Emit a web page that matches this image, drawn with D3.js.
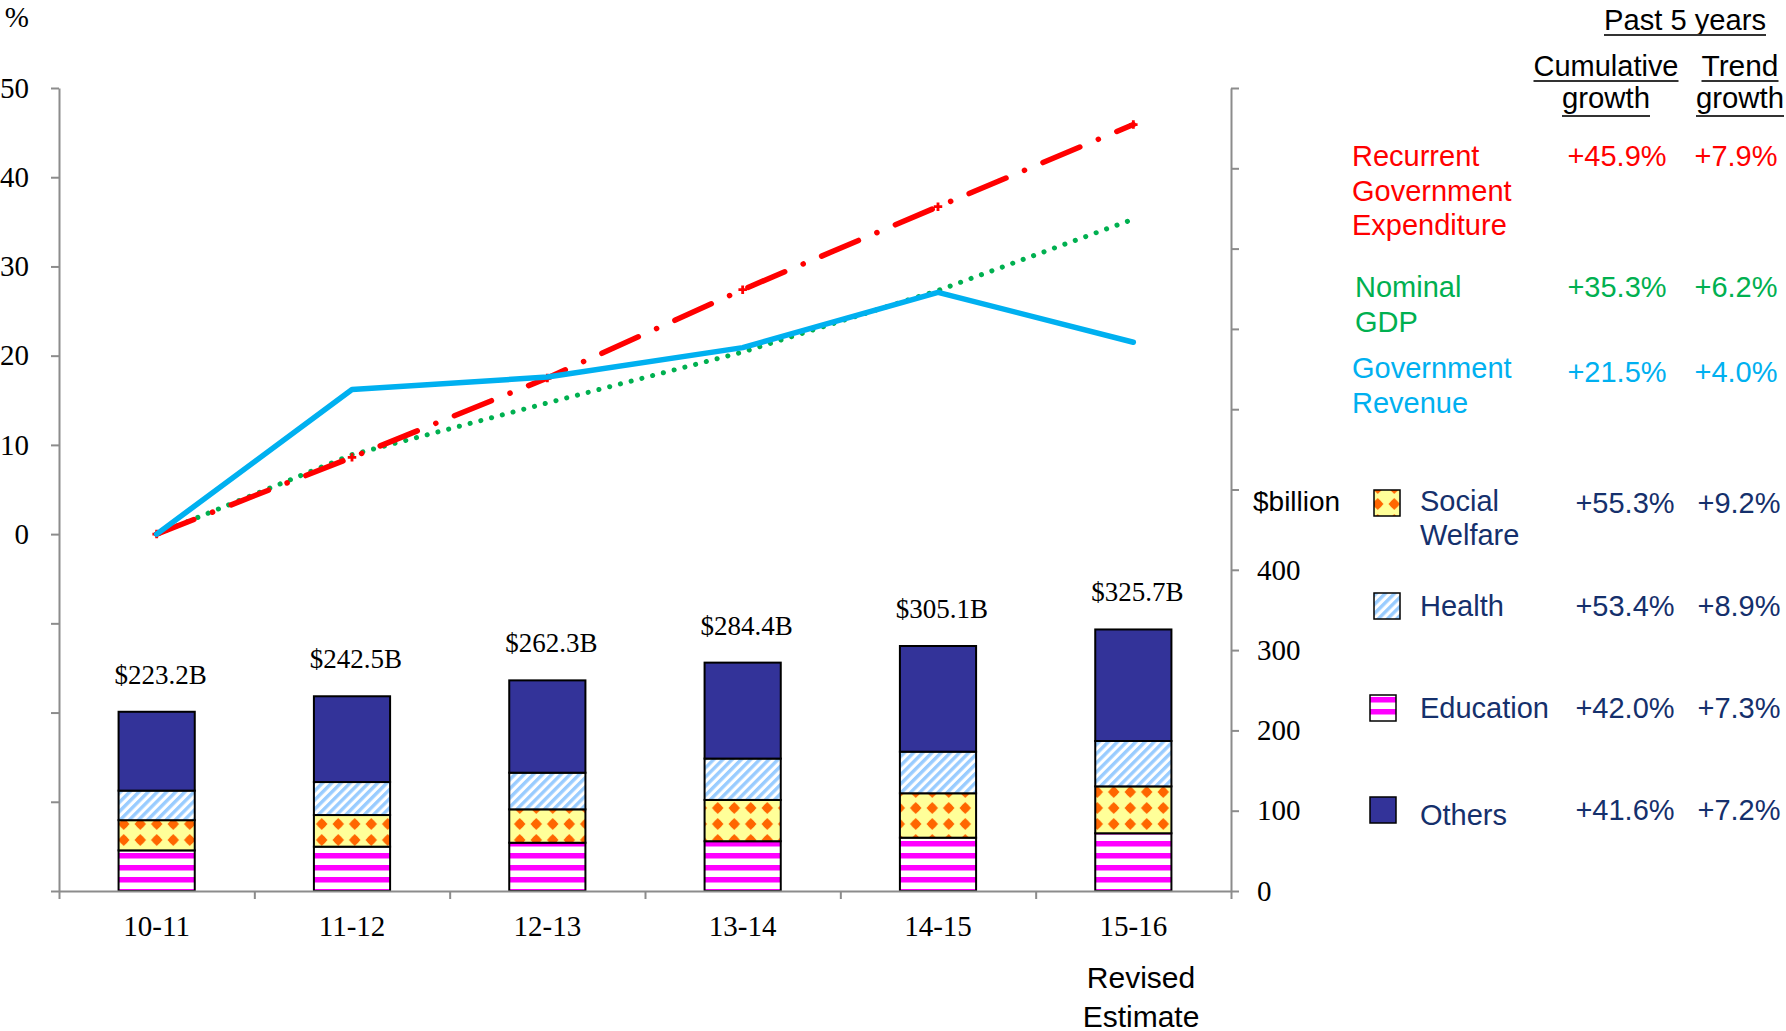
<!DOCTYPE html>
<html>
<head>
<meta charset="utf-8">
<script src="https://cdnjs.cloudflare.com/ajax/libs/d3/7.8.5/d3.min.js"></script>
<style>
body { margin: 0; background: #fff; }
svg text { font-family: 'Liberation Serif', 'Times New Roman', serif; }
svg text.sans { font-family: 'Liberation Sans', Arial, sans-serif; }
svg text.narrow { font-family: 'Liberation Sans Narrow', 'Arial Narrow', 'Liberation Sans', sans-serif; }
</style>
</head>
<body>
<svg id="chart" width="1786" height="1031"></svg>
<script>
// years on the x axis
const years = ['10-11', '11-12', '12-13', '13-14', '14-15', '15-16']
const totals = [223.2, 242.5, 262.3, 284.4, 305.1, 325.7]

// stacked parts in $billion, bottom to top
const education = [50.6, 55.2, 60.1, 62.0, 66.4, 71.9]
const socialWelfare = [37.6, 39.4, 41.6, 51.4, 55.3, 58.4]
const health = [36.8, 41.1, 45.6, 51.5, 51.8, 56.5]
const others = [98.2, 106.8, 115.0, 119.5, 131.6, 138.9]

// cumulative growth since 10-11 (%)
const recurrentGrowth = [0, 8.6, 17.5, 27.4, 36.7, 45.9]
const gdpGrowth = [0, 8.9, 14.7, 20.4, 27.3, 35.3]
const revenueGrowth = [0, 16.2, 17.6, 20.9, 27.1, 21.5]

// legend table
const lineNames = [['Recurrent', 'Government', 'Expenditure'], ['Nominal', 'GDP'], ['Government', 'Revenue']]
const lineCumulative = ['+45.9%', '+35.3%', '+21.5%']
const lineTrend = ['+7.9%', '+6.2%', '+4.0%']
const barNames = [['Social', 'Welfare'], ['Health'], ['Education'], ['Others']]
const barCumulative = ['+55.3%', '+53.4%', '+42.0%', '+41.6%']
const barTrend = ['+9.2%', '+8.9%', '+7.3%', '+7.2%']

const svg = d3.select('#chart')

// plot box
const plotLeft = 59, plotRight = 1231, plotTop = 88, plotBottom = 891

// Scales
const x = d3.scaleBand().domain(years).range([plotLeft, plotRight]).paddingInner(0.61).paddingOuter(0.305)
const xEdge = d3.scaleLinear().domain([0, years.length]).range([plotLeft, plotRight])
const yPct = d3.scaleLinear().domain([-40, 50]).range([plotBottom, plotTop])
const yBn = d3.scaleLinear().domain([0, 1000]).range([plotBottom, plotTop])

// Patterns
const defs = svg.append('defs')

let p = defs.append('pattern').attr('id', 'pat-edu')
    .attr('patternUnits', 'userSpaceOnUse').attr('width', 12).attr('height', 12)
p.append('rect').attr('width', 12).attr('height', 12).attr('fill', '#fff')
p.append('rect').attr('y', 1).attr('width', 12).attr('height', 5.5).attr('fill', '#ff00ff')

p = defs.append('pattern').attr('id', 'pat-health')
    .attr('patternUnits', 'userSpaceOnUse').attr('width', 6.5).attr('height', 6.5)
    .attr('patternTransform', 'rotate(45)')
p.append('rect').attr('width', 6.5).attr('height', 6.5).attr('fill', '#fff')
p.append('rect').attr('width', 3.4).attr('height', 6.5).attr('fill', '#99ccff')

p = defs.append('pattern').attr('id', 'pat-sw')
    .attr('patternUnits', 'userSpaceOnUse').attr('width', 16.5).attr('height', 16)
p.append('rect').attr('width', 16.5).attr('height', 16).attr('fill', '#ffff99')
p.append('path').attr('d', 'M8.25,2 L14,8 L8.25,14 L2.5,8 Z').attr('fill', '#ff6600')
p.append('circle').attr('cx', 8.25).attr('cy', 8).attr('r', 4.3).attr('fill', '#ff6600')

const fills = { education: 'url(#pat-edu)', socialWelfare: 'url(#pat-sw)', health: 'url(#pat-health)', others: '#333399' }
const keys = ['education', 'socialWelfare', 'health', 'others']

// Bars
const rows = years.map((yr, i) => ({ year: yr, education: education[i], socialWelfare: socialWelfare[i], health: health[i], others: others[i] }))
const stacked = d3.stack().keys(keys)(rows)

svg.append('g').selectAll('g')
    .data(stacked)
    .join('g')
    .attr('fill', d => fills[d.key])
    .selectAll('rect')
    .data(d => d)
    .join('rect')
    .attr('x', d => x(d.data.year))
    .attr('width', x.bandwidth())
    .attr('y', d => yBn(d[1]))
    .attr('height', d => yBn(d[0]) - yBn(d[1]))
    .attr('stroke', '#000')
    .attr('stroke-width', 2)

// Bar total labels
svg.append('g').selectAll('text')
    .data(totals)
    .join('text')
    .attr('x', (d, i) => x(years[i]) + x.bandwidth() / 2 + 4)
    .attr('y', d => yBn(d) - 28)
    .attr('text-anchor', 'middle')
    .style('font-size', '27px')
    .text(d => '$' + d.toFixed(1) + 'B')

// Axes
const axisColor = '#8c8c8c'

let gL = svg.append('g').attr('transform', `translate(${plotLeft},0)`)
    .call(d3.axisLeft(yPct).tickValues(d3.range(-40, 51, 10)).tickSize(8).tickSizeOuter(0).tickPadding(22)
        .tickFormat(d => d >= 0 ? d : ''))
let gR = svg.append('g').attr('transform', `translate(${plotRight},0)`)
    .call(d3.axisRight(yBn).tickValues(d3.range(0, 1001, 100)).tickSize(8).tickSizeOuter(0).tickPadding(18)
        .tickFormat(d => d <= 400 ? d : ''))
let gX = svg.append('g').attr('transform', `translate(0,${plotBottom})`)
    .call(d3.axisBottom(xEdge).tickValues(d3.range(0, years.length + 1)).tickSize(8).tickSizeOuter(0).tickFormat(''))
let gXL = svg.append('g').attr('transform', `translate(0,${plotBottom})`)
    .call(d3.axisBottom(x).tickSize(0).tickPadding(24))
gXL.select('.domain').remove()

for (const g of [gL, gR, gX]) {
    g.select('.domain').attr('stroke', axisColor).attr('stroke-width', 2)
    g.selectAll('.tick line').attr('stroke', axisColor).attr('stroke-width', 2)
}
for (const g of [gL, gR, gXL]) {
    g.selectAll('text').style('font-family', "'Liberation Serif', 'Times New Roman', serif")
        .style('font-size', '29px').attr('fill', '#000')
}

// Axis titles
svg.append('text').attr('x', 29).attr('y', 17).attr('dy', '0.35em')
    .attr('text-anchor', 'end').style('font-size', '29px').text('%')
svg.append('text').attr('class', 'sans').attr('x', 1253).attr('y', 501).attr('dy', '0.35em')
    .style('font-size', '28px').text('$billion')
svg.append('g').selectAll('text')
    .data(['Revised', 'Estimate'])
    .join('text')
    .attr('class', 'sans')
    .attr('x', 1141)
    .attr('y', (d, i) => 977 + i * 39)
    .attr('dy', '0.35em')
    .attr('text-anchor', 'middle')
    .style('font-size', '30px')
    .text(d => d)

// Lines
const cx = i => x(years[i]) + x.bandwidth() / 2
const line = d3.line().x((d, i) => cx(i)).y(d => yPct(d))

svg.append('path').datum(gdpGrowth)
    .attr('d', line).attr('fill', 'none')
    .attr('stroke', '#00b050').attr('stroke-width', 5)
    .attr('stroke-linecap', 'round').attr('stroke-dasharray', '0.1 11')

svg.append('path').datum(recurrentGrowth)
    .attr('d', line).attr('fill', 'none')
    .attr('stroke', '#ff0000').attr('stroke-width', 5.5)
    .attr('stroke-linecap', 'round').attr('stroke-dasharray', '40 20 0.1 20')

svg.append('g').selectAll('path')
    .data(recurrentGrowth)
    .join('path')
    .attr('d', d3.symbol(d3.symbolCross, 40))
    .attr('transform', (d, i) => `translate(${cx(i)},${yPct(d)})`)
    .attr('fill', '#ff0000')

svg.append('path').datum(revenueGrowth)
    .attr('d', line).attr('fill', 'none')
    .attr('stroke', '#00b0f0').attr('stroke-width', 5.5)
    .attr('stroke-linejoin', 'round').attr('stroke-linecap', 'round')

// Legend header
const header = svg.append('g')
const heads = [
    { t: 'Past 5 years', x: 1685, y: 30, w: 162 },
    { t: 'Cumulative', x: 1606, y: 76, w: 145 },
    { t: 'growth', x: 1606, y: 108, w: 88 },
    { t: 'Trend', x: 1740, y: 76, w: 77 },
    { t: 'growth', x: 1740, y: 108, w: 88 }
]
heads.forEach(h => {
    header.append('text').attr('class', 'narrow')
        .attr('x', h.x).attr('y', h.y).attr('text-anchor', 'middle')
        .attr('textLength', h.w).attr('lengthAdjust', 'spacingAndGlyphs')
        .style('font-size', '30px').text(h.t)
    header.append('line')
        .attr('x1', h.x - h.w / 2).attr('x2', h.x + h.w / 2)
        .attr('y1', h.y + (h.t === 'growth' ? 8 : 5)).attr('y2', h.y + (h.t === 'growth' ? 8 : 5))
        .attr('stroke', '#333').attr('stroke-width', 2)
})

// Line legend
const lineColors = ['#ff0000', '#00b050', '#00b0f0']
const lineRowY = [156, 287, 368]
const lineTextX = [1352, 1355, 1352]
lineNames.forEach((names, k) => {
    const g = svg.append('g').attr('fill', lineColors[k])
    names.forEach((t, j) => {
        g.append('text').attr('class', 'sans')
            .attr('x', lineTextX[k]).attr('y', lineRowY[k] + j * 34.5).attr('dy', '0.35em')
            .style('font-size', '29px').text(t)
    })
    g.append('text').attr('class', 'sans').attr('x', 1617).attr('y', lineRowY[k] + (k === 2 ? 4 : 0)).attr('dy', '0.35em')
        .attr('text-anchor', 'middle').style('font-size', '29px').text(lineCumulative[k])
    g.append('text').attr('class', 'sans').attr('x', 1736).attr('y', lineRowY[k] + (k === 2 ? 4 : 0)).attr('dy', '0.35em')
        .attr('text-anchor', 'middle').style('font-size', '29px').text(lineTrend[k])
})

// Bar legend (top of stack first)
const legendKeys = ['socialWelfare', 'health', 'education', 'others']
const barRowY = [503, 606, 708, 810]
const navy = '#15306c'
legendKeys.forEach((key, k) => {
    const g = svg.append('g').attr('fill', navy)
    g.append('rect')
        .attr('x', k < 2 ? 1374 : 1370).attr('y', barRowY[k] - 13)
        .attr('width', 26).attr('height', 26)
        .attr('fill', fills[key]).attr('stroke', '#000').attr('stroke-width', 1.5)
    barNames[k].forEach((t, j) => {
        g.append('text').attr('class', 'sans')
            .attr('x', 1420).attr('y', barRowY[k] - (k === 0 ? 2 : 0) + (k === 3 ? 5 : 0) + j * 34).attr('dy', '0.35em')
            .style('font-size', '29px').text(t)
    })
    g.append('text').attr('class', 'sans').attr('x', 1625).attr('y', barRowY[k]).attr('dy', '0.35em')
        .attr('text-anchor', 'middle').style('font-size', '29px').text(barCumulative[k])
    g.append('text').attr('class', 'sans').attr('x', 1739).attr('y', barRowY[k]).attr('dy', '0.35em')
        .attr('text-anchor', 'middle').style('font-size', '29px').text(barTrend[k])
})
</script>
</body>
</html>
